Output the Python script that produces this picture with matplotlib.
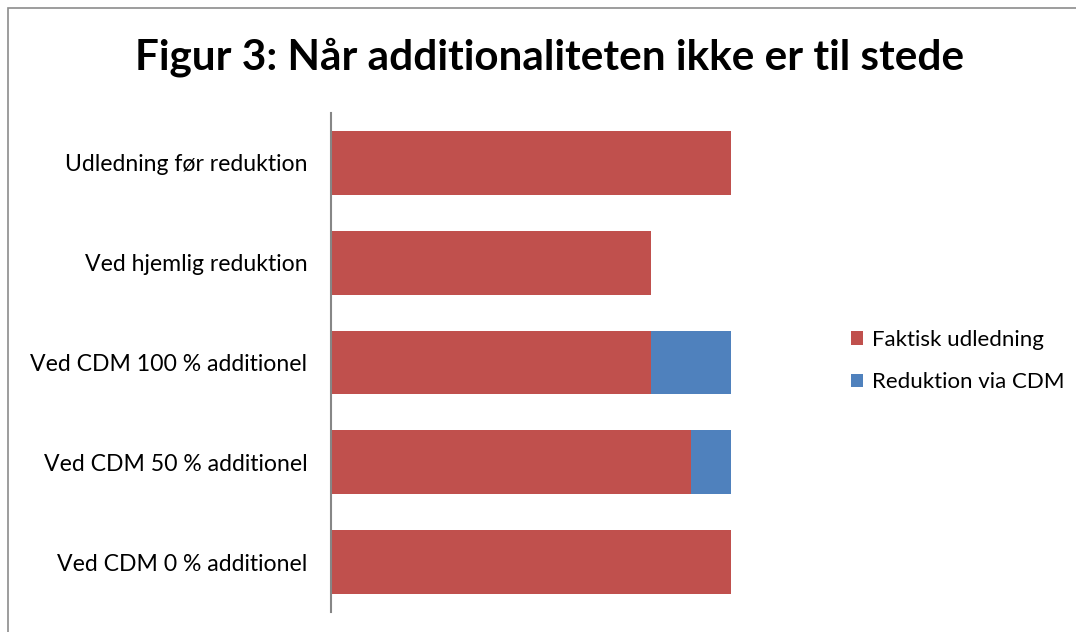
import matplotlib
matplotlib.use("Agg")
import matplotlib.pyplot as plt
from matplotlib.patches import Rectangle, Patch

plt.rcParams['font.family'] = ['Lato', 'DejaVu Sans']

categories = ["Udledning før reduktion", "Ved hjemlig reduktion",
              "Ved CDM 100 % additionel", "Ved CDM 50 % additionel",
              "Ved CDM 0 % additionel"]
faktisk = [100, 80, 80, 90, 100]
cdm = [0, 0, 20, 10, 0]
series_names = ["Faktisk udledning", "Reduktion via CDM"]
title = "Figur 3: Når additionaliteten ikke er til stede"

red = "#C0504D"
blue = "#4F81BD"

W, H = 1076, 632
fig = plt.figure(figsize=(W / 100, H / 100), dpi=100)
fig.patches.append(Rectangle((8 / W, -0.1), 1.2, (H - 8) / H + 0.1,
                             transform=fig.transFigure, fill=False,
                             edgecolor="#8c8c8c", linewidth=1.2))

ax = fig.add_axes([331 / W, 1 - 612 / H, 480 / W, 499 / H])
y = list(range(len(categories)))
ax.barh(y, faktisk, height=0.64, color=red)
ax.barh(y, cdm, left=faktisk, height=0.64, color=blue)
ax.set_xlim(0, 120)
ax.set_ylim(len(categories) - 0.5, -0.5)
ax.set_yticks(y)
ax.set_yticklabels(categories, fontsize=16.6)
ax.tick_params(axis='y', length=0, pad=17)
ax.set_xticks([])
for s in ["top", "right", "bottom"]:
    ax.spines[s].set_visible(False)
ax.spines["left"].set_color("#868686")
ax.spines["left"].set_linewidth(1.5)

fig.text(550 / W, 1 - 57 / H, title, fontsize=30.4, fontweight="bold",
         ha="center", va="center")

handles = [Patch(facecolor=red), Patch(facecolor=blue)]
fig.legend(handles, series_names, loc="center left",
           bbox_to_anchor=(831 / W, 1 - 361 / H), frameon=False,
           fontsize=16.0, handlelength=0.55, handleheight=0.55,
           handletextpad=0.4, labelspacing=1.0)

fig.savefig("out.png", dpi=100)
